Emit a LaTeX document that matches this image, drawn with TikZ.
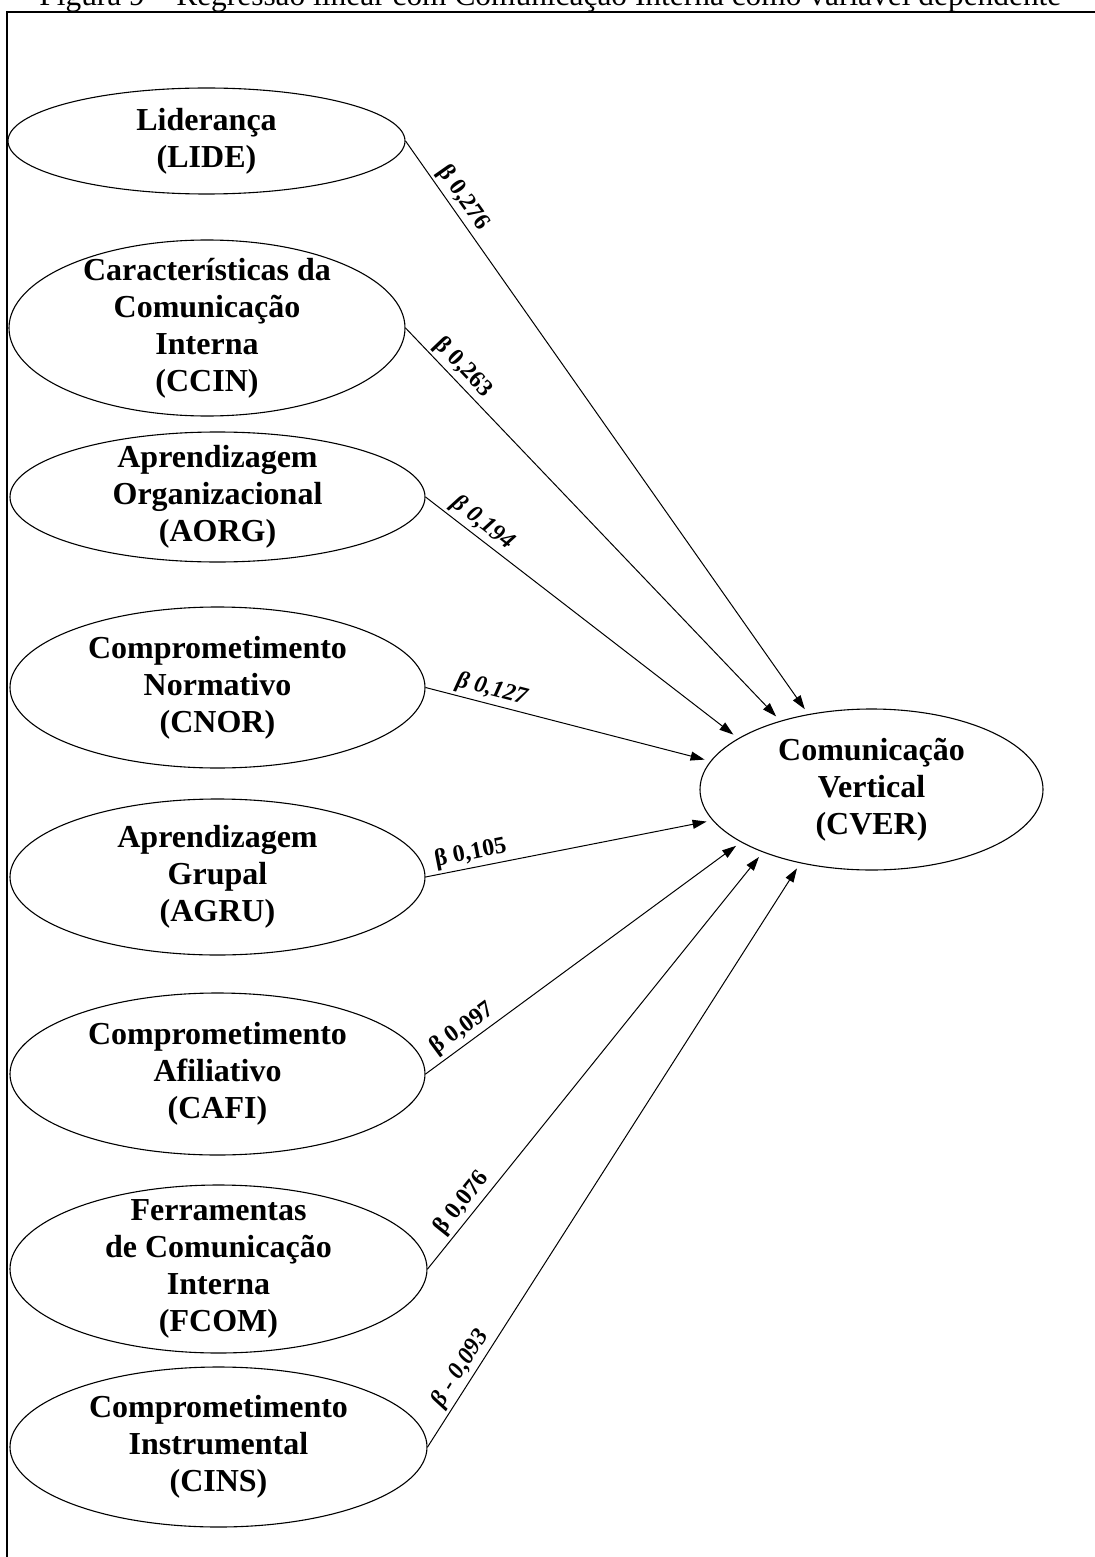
\documentclass[tikz,border=0pt]{standalone}
\usepackage{fontspec}
\setmainfont{Liberation Serif}
\usetikzlibrary{shapes.geometric,arrows.meta}

\begin{document}
\begin{tikzpicture}[x=0.5pt,y=-0.5pt,
  construct/.style={ellipse, draw, line width=0.55pt, inner sep=0pt},
  nametext/.style={font=\fontsize{16}{18.5}\selectfont\bfseries, align=center, inner sep=0pt},
  effect/.style={line width=0.5pt, -{Triangle[length=7pt,width=4.5pt]}, shorten >=3pt},
  coef/.style={font=\fontsize{12}{14}\selectfont\bfseries, sloped, above, inner sep=1.5pt},
  coefit/.style={coef, font=\fontsize{12}{14}\selectfont\bfseries\itshape},
]
\useasboundingbox (0,0) rectangle (1095,1557);

% caption line and frame
\node[anchor=base west, inner sep=0pt, font=\fontsize{15.7}{18}\selectfont] (title) at (39,5.5)
  {Figura 9 – Regressão linear com Comunicação Interna como variável dependente};
\draw[line width=1.1pt] (7,1565) -- (7,12) -- (1100,12);

% independent constructs
\node[construct, minimum width=198.5pt, minimum height=53pt,
  label={[nametext]center:Liderança\\(LIDE)}] (lide) at (206.5,141) {};
\node[construct, minimum width=198pt, minimum height=88pt,
  label={[nametext]center:Características da\\Comunicação\\Interna\\(CCIN)}] (ccin) at (207,328) {};
\node[construct, minimum width=207.5pt, minimum height=65pt,
  label={[nametext]center:Aprendizagem\\Organizacional\\(AORG)}] (aorg) at (217.5,497) {};
\node[construct, minimum width=207.5pt, minimum height=80.5pt,
  label={[nametext]center:Comprometimento\\Normativo\\(CNOR)}] (cnor) at (217.5,687.5) {};
\node[construct, minimum width=207.5pt, minimum height=78pt,
  label={[nametext]center:Aprendizagem\\Grupal\\(AGRU)}] (agru) at (217.5,877) {};
\node[construct, minimum width=207.5pt, minimum height=81pt,
  label={[nametext]center:Comprometimento\\Afiliativo\\(CAFI)}] (cafi) at (217.5,1074) {};
\node[construct, minimum width=208.5pt, minimum height=84pt,
  label={[nametext]center:Ferramentas\\de Comunicação\\Interna\\(FCOM)}] (fcom) at (218.5,1269) {};
\node[construct, minimum width=208.5pt, minimum height=80pt,
  label={[nametext]center:Comprometimento\\Instrumental\\(CINS)}] (cins) at (218.5,1447) {};

% dependent construct
\node[construct, minimum width=171.5pt, minimum height=80.5pt,
  label={[nametext]center:Comunicação\\Vertical\\(CVER)}] (cver) at (871.5,789.5) {};

% regression paths
\draw[effect] (lide.east) -- node[coef,pos=.114]{β 0,276} (cver.130);
\draw[effect] (ccin.east) -- node[coef,pos=.126]{β 0,263} (cver.143.5);
\draw[effect] (aorg.east) -- node[coefit,pos=.155]{β 0,194} (cver.159);
\draw[effect] (cnor.east) -- node[coefit,pos=.219]{β 0,127} (cver.170.6);
\draw[effect] (agru.east) -- node[coef,pos=.167]{β 0,105} (cver.191);
\draw[effect] (cafi.east) -- node[coef,pos=.145]{β 0,097} (cver.202);
\draw[effect] (fcom.east) -- node[coef,pos=.136]{β 0,076} (cver.210);
\draw[effect] (cins.east) -- node[coefit,pos=.121]{β - 0,093} (cver.226.5);
\end{tikzpicture}
\end{document}
